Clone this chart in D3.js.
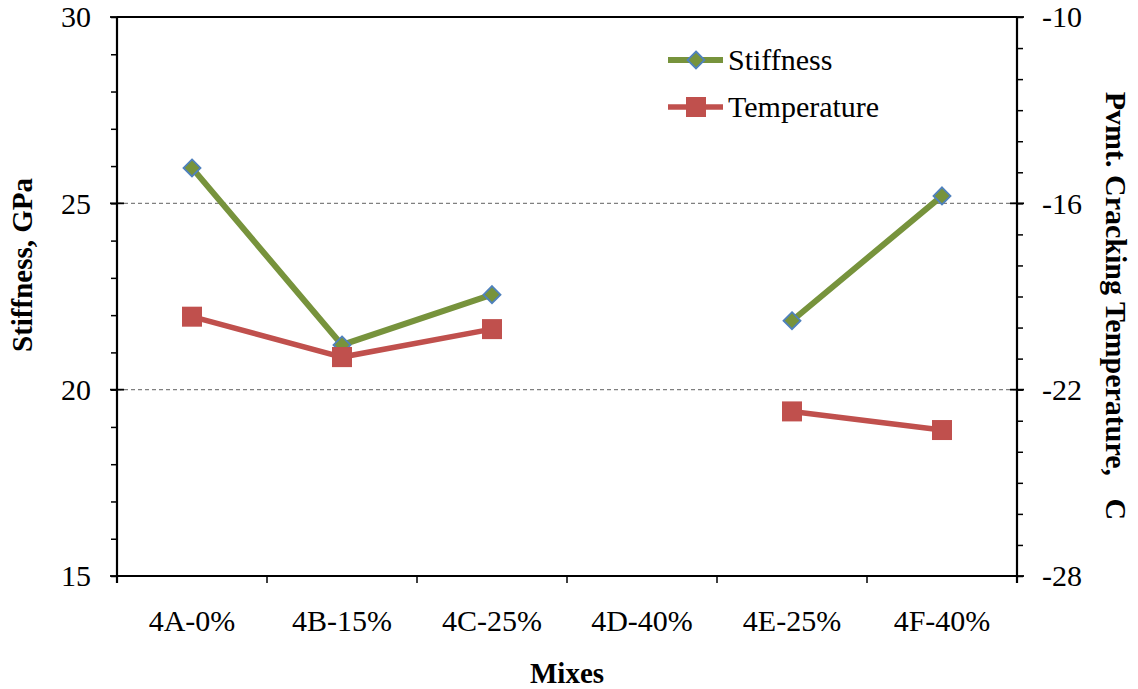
<!DOCTYPE html>
<html>
<head>
<meta charset="utf-8">
<script src="https://cdn.jsdelivr.net/npm/d3@7"></script>
<style>
  html, body { margin: 0; padding: 0; background: #fff; }
  svg { display: block; }
</style>
</head>
<body>
<svg id="chart" width="1138" height="689" font-family="'Liberation Serif', 'Times New Roman', Times, 'DejaVu Serif', serif"></svg>
<script>
// ---- data ----
const categories = ["4A-0%", "4B-15%", "4C-25%", "4D-40%", "4E-25%", "4F-40%"];
const stiffness = [25.95, 21.2, 22.55, null, 21.85, 25.2];
const temperature = [-19.65, -20.95, -20.05, null, -22.7, -23.3];
const leftTicks = [15, 20, 25, 30];
const rightTicks = [-28, -22, -16, -10];
const seriesNames = ["Stiffness", "Temperature"];

// ---- layout ----
const FONT = "'Liberation Serif', 'Times New Roman', Times, 'DejaVu Serif', serif";
const FS = 30;
const svg = d3.select("#chart");
const L = 117, R = 1017, T = 17, B = 576;
const green = "#77933C", blue = "#4F81BD", red = "#C0504D";

const x = d3.scaleBand().domain(categories).range([L, R]).padding(0);
const yL = d3.scaleLinear().domain([15, 30]).range([B, T]);
const yR = d3.scaleLinear().domain([-28, -10]).range([B, T]);

// gridlines (dashed) at inner major ticks
svg.append("g").selectAll("line")
  .data(leftTicks.filter(d => d > 15 && d < 30))
  .join("line")
  .attr("x1", L).attr("x2", R)
  .attr("y1", d => yL(d)).attr("y2", d => yL(d))
  .attr("stroke", "#808080").attr("stroke-width", 1.4)
  .attr("stroke-dasharray", "4,3");

// top border
svg.append("line").attr("x1", L).attr("x2", R).attr("y1", T).attr("y2", T)
  .attr("stroke", "#000").attr("stroke-width", 2);

// left axis (minor ticks via d3.axis)
const gL = svg.append("g").attr("transform", `translate(${L},0)`);
gL.append("g").call(d3.axisLeft(yL).tickValues(d3.range(15, 31, 1)).tickSize(6).tickFormat(""))
  .call(g => g.select(".domain").remove())
  .call(g => g.selectAll("line").attr("stroke", "#000").attr("stroke-width", 1.5));
gL.append("g").selectAll("line").data(leftTicks).join("line")
  .attr("x1", -7).attr("x2", 7).attr("y1", d => yL(d)).attr("y2", d => yL(d))
  .attr("stroke", "#000").attr("stroke-width", 1.8);
gL.append("line").attr("x1", 0).attr("x2", 0).attr("y1", T).attr("y2", B + 7)
  .attr("stroke", "#000").attr("stroke-width", 2.2);
gL.append("g").selectAll("text").data(leftTicks).join("text")
  .attr("x", -26).attr("y", d => yL(d)).attr("dy", "0.34em")
  .attr("text-anchor", "end").attr("font-size", FS).attr("font-family", FONT).attr("fill", "#000")
  .text(d => d);

// right axis
const gR = svg.append("g").attr("transform", `translate(${R},0)`);
gR.append("g").call(d3.axisRight(yR).tickValues(d3.range(-28, -9, 1)).tickSize(6).tickFormat(""))
  .call(g => g.select(".domain").remove())
  .call(g => g.selectAll("line").attr("stroke", "#000").attr("stroke-width", 1.5));
gR.append("g").selectAll("line").data(rightTicks).join("line")
  .attr("x1", -7).attr("x2", 7).attr("y1", d => yR(d)).attr("y2", d => yR(d))
  .attr("stroke", "#000").attr("stroke-width", 1.8);
gR.append("line").attr("x1", 0).attr("x2", 0).attr("y1", T).attr("y2", B + 7)
  .attr("stroke", "#000").attr("stroke-width", 2.2);
gR.append("g").selectAll("text").data(rightTicks).join("text")
  .attr("x", 25).attr("y", d => yR(d)).attr("dy", "0.34em")
  .attr("text-anchor", "start").attr("font-size", FS).attr("font-family", FONT).attr("fill", "#000")
  .text(d => d);

// bottom axis
const gB = svg.append("g").attr("transform", `translate(0,${B})`);
gB.append("line").attr("x1", L).attr("x2", R).attr("stroke", "#000").attr("stroke-width", 2.2);
const boundaries = categories.map(c => x(c) + x.bandwidth()).slice(0, -1);
gB.selectAll("line.tk").data(boundaries).join("line").attr("class", "tk")
  .attr("x1", d => d).attr("x2", d => d).attr("y1", 0).attr("y2", 7)
  .attr("stroke", "#000").attr("stroke-width", 1.5);
gB.selectAll("text").data(categories).join("text")
  .attr("x", d => x(d) + x.bandwidth() / 2).attr("y", 55)
  .attr("text-anchor", "middle").attr("font-size", FS).attr("font-family", FONT).attr("fill", "#000")
  .text(d => d);

// axis titles
svg.append("text").attr("x", 567).attr("y", 683).attr("text-anchor", "middle")
  .attr("font-size", 29).attr("font-weight", "bold").attr("font-family", FONT).text("Mixes");
svg.append("text").attr("transform", "translate(32,265) rotate(-90)")
  .attr("text-anchor", "middle").attr("font-size", 29).attr("font-weight", "bold").attr("font-family", FONT)
  .text("Stiffness, GPa");
svg.append("text").attr("transform", "translate(1106,306) rotate(90)")
  .attr("text-anchor", "middle").attr("font-size", 30).attr("font-weight", "bold").attr("font-family", FONT)
  .text("Pvmt. Cracking Temperature,\u00A0\u00A0\u00A0C");

// series
const cx = d => x(d) + x.bandwidth() / 2;
const sData = categories.map((c, i) => ({ c, v: stiffness[i] }));
const tData = categories.map((c, i) => ({ c, v: temperature[i] }));

const lineS = d3.line().defined(d => d.v != null).x(d => cx(d.c)).y(d => yL(d.v));
const lineT = d3.line().defined(d => d.v != null).x(d => cx(d.c)).y(d => yR(d.v));

svg.append("path").datum(tData).attr("d", lineT)
  .attr("fill", "none").attr("stroke", red).attr("stroke-width", 5.5);
svg.append("path").datum(sData).attr("d", lineS)
  .attr("fill", "none").attr("stroke", green).attr("stroke-width", 6);

const sq = 20;
svg.append("g").selectAll("rect").data(tData.filter(d => d.v != null)).join("rect")
  .attr("x", d => cx(d.c) - sq / 2).attr("y", d => yR(d.v) - sq / 2)
  .attr("width", sq).attr("height", sq).attr("fill", red);

const dm = 8.5;
const diamond = (px, py) => `M${px},${py - dm}L${px + dm},${py}L${px},${py + dm}L${px - dm},${py}Z`;
svg.append("g").selectAll("path").data(sData.filter(d => d.v != null)).join("path")
  .attr("d", d => diamond(cx(d.c), yL(d.v)))
  .attr("fill", green).attr("stroke", blue).attr("stroke-width", 1.8);

// 4B square drawn over the diamond, as in the reference
svg.append("g").selectAll("rect").data(tData.filter(d => d.c === "4B-15%")).join("rect")
  .attr("x", d => cx(d.c) - sq / 2).attr("y", d => yR(d.v) - sq / 2)
  .attr("width", sq).attr("height", sq).attr("fill", red);

// legend
const lg = svg.append("g");
const legendRows = [
  { name: seriesNames[0], y: 60, color: green },
  { name: seriesNames[1], y: 107, color: red }
];
lg.selectAll("line").data(legendRows).join("line")
  .attr("x1", 668).attr("x2", 723).attr("y1", d => d.y).attr("y2", d => d.y)
  .attr("stroke", d => d.color).attr("stroke-width", d => d.color === green ? 6 : 5.5);
lg.append("path").attr("d", diamond(696, 60)).attr("fill", green).attr("stroke", blue).attr("stroke-width", 1.8);
lg.append("rect").attr("x", 696 - sq / 2).attr("y", 107 - sq / 2).attr("width", sq).attr("height", sq).attr("fill", red);
lg.selectAll("text").data(legendRows).join("text")
  .attr("x", 728).attr("y", d => d.y + 10).attr("font-size", FS).attr("font-family", FONT).attr("fill", "#000")
  .text(d => d.name);
</script>
</body>
</html>
